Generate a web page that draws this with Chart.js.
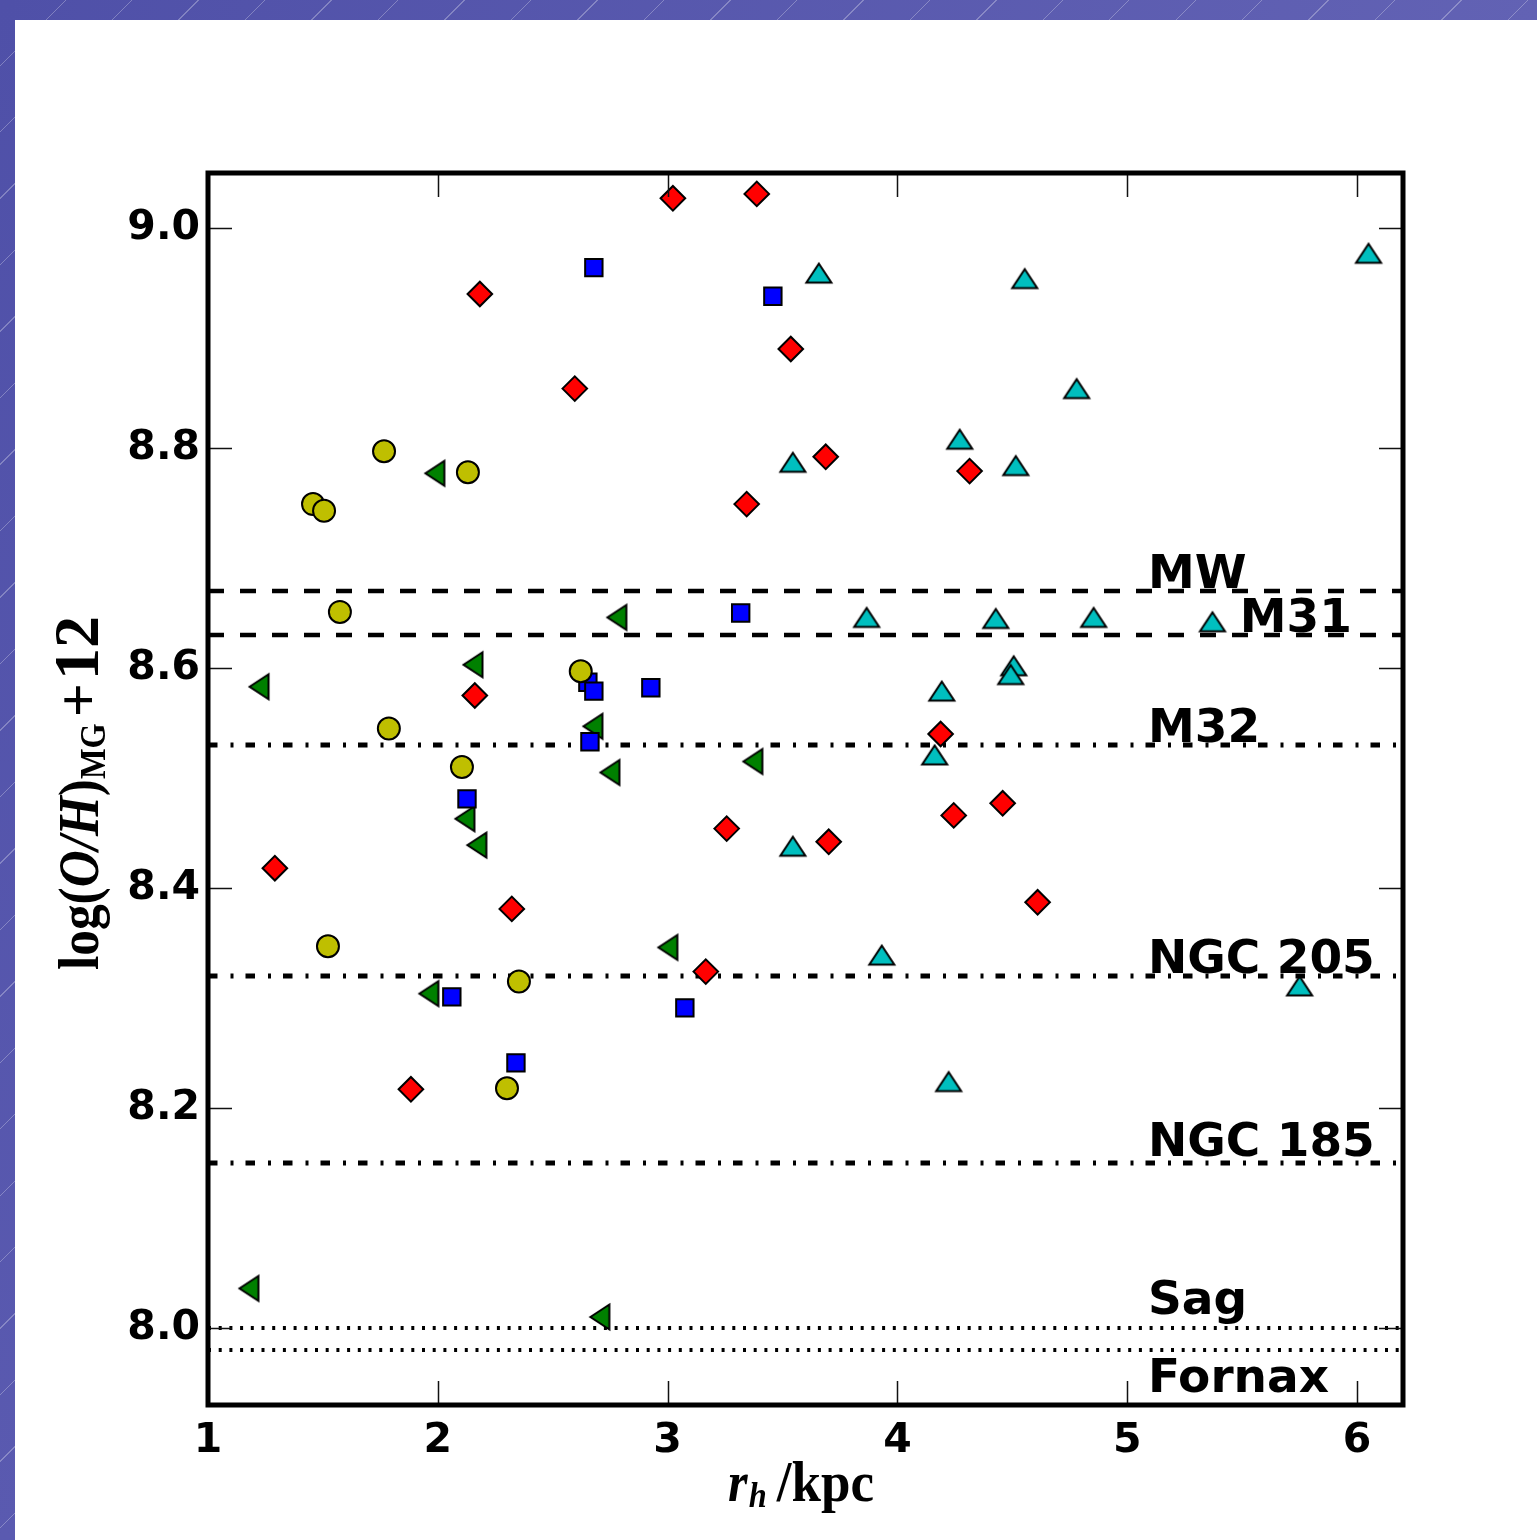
<!DOCTYPE html>
<html>
<head>
<meta charset="utf-8">
<script src="https://cdn.jsdelivr.net/npm/chart.js@4/dist/chart.umd.min.js"></script>
<style>
  html, body { margin: 0; padding: 0; background: #fff; }
  body { width: 1537px; height: 1540px; position: relative; overflow: hidden; }
  .bar-top, .bar-left { position: absolute; left: 0; top: 0; }
  .bar-top {
    width: 1537px; height: 20px;
    background:
      repeating-linear-gradient(135deg, rgba(255,255,255,0) 0 46px, rgba(255,255,255,0.28) 46px 47px),
      linear-gradient(90deg, #4f50a8, #6262b4);
  }
  .bar-left {
    width: 15px; height: 1540px;
    background:
      repeating-linear-gradient(135deg, rgba(255,255,255,0) 0 46px, rgba(255,255,255,0.28) 46px 47px),
      linear-gradient(180deg, #4f50a8, #5a5ab0);
  }
  #chart { position: absolute; left: 0; top: 0; }
</style>
</head>
<body>
<div class="bar-top"></div>
<div class="bar-left"></div>
<canvas id="chart" width="1537" height="1540"></canvas>
<script>
// Axis ticks
const xTicks = [1, 2, 3, 4, 5, 6];
const yTicks = [8.0, 8.2, 8.4, 8.6, 8.8, 9.0];

// Red diamonds
const redX = [3.023, 3.388, 2.183, 3.536, 2.596, 3.688, 4.314, 3.344, 2.161, 4.188, 4.458, 4.245, 3.257, 3.701, 1.291, 4.610, 2.322, 3.166, 1.883];
const redY = [9.027, 9.031, 8.940, 8.890, 8.854, 8.792, 8.779, 8.749, 8.575, 8.540, 8.477, 8.466, 8.454, 8.442, 8.418, 8.387, 8.381, 8.324, 8.217];

// Blue squares
const blueX = [2.679, 3.458, 3.318, 2.653, 2.679, 2.927, 2.662, 2.127, 2.061, 3.075, 2.340];
const blueY = [8.964, 8.938, 8.650, 8.587, 8.579, 8.582, 8.533, 8.481, 8.301, 8.291, 8.241];

// Cyan up-triangles
const cyanX = [3.658, 4.554, 6.050, 4.780, 4.271, 3.545, 4.515, 3.866, 4.428, 4.854, 5.371, 4.506, 4.493, 4.193, 4.162, 3.545, 3.932, 5.750, 4.223];
const cyanY = [8.959, 8.954, 8.977, 8.854, 8.808, 8.787, 8.784, 8.646, 8.645, 8.646, 8.642, 8.602, 8.594, 8.579, 8.521, 8.438, 8.339, 8.311, 8.224];

// Green left-triangles
const greenX = [1.987, 2.779, 2.153, 1.222, 2.675, 2.749, 3.371, 2.118, 2.170, 3.001, 1.961, 1.178, 2.705];
const greenY = [8.777, 8.646, 8.603, 8.583, 8.547, 8.505, 8.515, 8.463, 8.439, 8.346, 8.304, 8.036, 8.010];

// Yellow circles
const yellowX = [1.766, 2.131, 1.457, 1.505, 1.574, 2.622, 1.787, 2.105, 1.522, 2.353, 2.301];
const yellowY = [8.797, 8.778, 8.749, 8.743, 8.651, 8.597, 8.545, 8.510, 8.347, 8.315, 8.218];

// Reference galaxies (horizontal lines)
const refNames = ['MW', 'M31', 'M32', 'NGC 205', 'NGC 185', 'Sag', 'Fornax'];
const refLevels = [8.67, 8.63, 8.53, 8.32, 8.15, 8.00, 7.98];
const refKinds = ['dash', 'dash', 'dashdot', 'dashdot', 'dashdot', 'dot', 'dot'];

// where the galaxy names sit (data coords, baseline)
const nameX = [5.09, 5.49, 5.09, 5.09, 5.09, 5.09, 5.09];
const nameY = [8.673, 8.633, 8.533, 8.323, 8.156, 8.013, 7.942];

const X_MIN = 1, X_MAX = 6.2, Y_MIN = 7.93, Y_MAX = 9.05;

const pts = (xs, ys) => xs.map((x, i) => ({ x, y: ys[i] }));

function triMarker(fill, dir) {
  const c = document.createElement('canvas');
  c.width = 34; c.height = 34;
  const g = c.getContext('2d');
  g.translate(17, 17);
  const a = 12.5, b = 9.5;
  const p = dir === 'up' ? [[0, -b], [-a, b], [a, b]] : [[-b, 0], [b, -a], [b, a]];
  g.beginPath();
  g.moveTo(p[0][0], p[0][1]); g.lineTo(p[1][0], p[1][1]); g.lineTo(p[2][0], p[2][1]);
  g.closePath();
  g.fillStyle = fill; g.fill();
  g.lineWidth = 2; g.lineJoin = 'miter'; g.strokeStyle = '#000'; g.stroke();
  return c;
}

const dashStyles = {
  dash: { dash: [16, 16], width: 4.5 },
  dashdot: { dash: [9.5, 13, 3, 12], width: 5 },
  dot: { dash: [3, 7.7], width: 4 }
};

const refDatasets = refLevels.map((lvl, i) => ({
  label: refNames[i],
  data: [{ x: X_MIN, y: lvl }, { x: X_MAX, y: lvl }],
  showLine: true,
  pointRadius: 0,
  borderColor: '#000',
  borderWidth: dashStyles[refKinds[i]].width,
  borderDash: dashStyles[refKinds[i]].dash,
  borderCapStyle: 'butt',
  order: 10
}));

const markerDatasets = [
  { label: 'yellow', data: pts(yellowX, yellowY), pointStyle: 'circle', pointRadius: 11,
    backgroundColor: '#bfbf00', borderColor: '#000', borderWidth: 2, order: 1 },
  { label: 'blue', data: pts(blueX, blueY), pointStyle: 'rect', pointRadius: 12.3,
    backgroundColor: '#0000ff', borderColor: '#000', borderWidth: 2, order: 2 },
  { label: 'green', data: pts(greenX, greenY), pointStyle: triMarker('#008000', 'left'),
    backgroundColor: '#008000', borderColor: '#000', order: 3 },
  { label: 'cyan', data: pts(cyanX, cyanY), pointStyle: triMarker('#00bfbf', 'up'),
    backgroundColor: '#00bfbf', borderColor: '#000', order: 4 },
  { label: 'red', data: pts(redX, redY), pointStyle: 'rectRot', pointRadius: 12.3,
    backgroundColor: '#ff0000', borderColor: '#000', borderWidth: 2, order: 5 }
];

// rich text helper: parts = [{t, font, dy, gap, sx}], laid out from x=0 (or centred)
function drawRich(ctx, parts, centre) {
  let total = 0;
  parts.forEach(p => {
    ctx.font = p.font;
    p.sx = p.sx || 0.9;
    p.w = ctx.measureText(p.t).width * p.sx;
    total += p.w + (p.gap || 0);
  });
  let x = centre ? -total / 2 : 0;
  parts.forEach(p => {
    x += p.gap || 0;
    ctx.save();
    ctx.translate(x, p.dy || 0);
    ctx.scale(p.sx, 1);
    ctx.font = p.font;
    ctx.fillText(p.t, 0, 0);
    ctx.restore();
    x += p.w;
  });
}

const SERIF = 'Liberation Serif';
const frameAndText = {
  id: 'frameAndText',
  afterDatasetsDraw(chart) {
    const { ctx, chartArea: ca, scales } = chart;
    const xs = scales.x, ys = scales.y;
    ctx.save();
    // inward ticks on all four sides
    ctx.strokeStyle = '#111';
    ctx.lineWidth = 1.5;
    ctx.beginPath();
    xs.ticks.forEach(t => {
      const px = Math.round(xs.getPixelForValue(t.value)) + 0.5;
      ctx.moveTo(px, ca.bottom); ctx.lineTo(px, ca.bottom - 24);
      ctx.moveTo(px, ca.top); ctx.lineTo(px, ca.top + 24);
    });
    ys.ticks.forEach(t => {
      const py = Math.round(ys.getPixelForValue(t.value)) + 0.5;
      ctx.moveTo(ca.left, py); ctx.lineTo(ca.left + 24, py);
      ctx.moveTo(ca.right, py); ctx.lineTo(ca.right - 24, py);
    });
    ctx.stroke();
    // frame
    ctx.lineWidth = 5;
    ctx.strokeStyle = '#000';
    ctx.strokeRect(ca.left, ca.top, ca.right - ca.left, ca.bottom - ca.top);

    // galaxy names
    ctx.fillStyle = '#000';
    ctx.font = 'bold 47px "DejaVu Sans"';
    ctx.textAlign = 'left';
    ctx.textBaseline = 'alphabetic';
    refNames.forEach((n, i) => {
      ctx.fillText(n, xs.getPixelForValue(nameX[i]), ys.getPixelForValue(nameY[i]));
    });

    // x title: r_h /kpc
    ctx.save();
    ctx.translate(801, 1501);
    drawRich(ctx, [
      { t: 'r', font: `italic bold 56px "${SERIF}"` },
      { t: 'h', font: `italic bold 36px "${SERIF}"`, dy: 6, gap: 1 },
      { t: '/kpc', font: `bold 57px "${SERIF}"`, gap: 10, sx: 0.93 }
    ], true);
    ctx.restore();

    // y title: log(O/H)_MG +12, reading upwards from y = 970
    ctx.save();
    ctx.translate(98, 970);
    ctx.rotate(-Math.PI / 2);
    drawRich(ctx, [
      { t: 'log(', font: `bold 57px "${SERIF}"` },
      { t: 'O/H', font: `italic bold 57px "${SERIF}"` },
      { t: ')', font: `bold 57px "${SERIF}"` },
      { t: 'MG', font: `bold 36px "${SERIF}"`, dy: 7 },
      { t: '+', font: `bold 60px "${SERIF}"`, gap: 6, sx: 1 },
      { t: '12', font: `bold 64px "${SERIF}"`, gap: 3, sx: 1 }
    ], false);
    ctx.restore();
    ctx.restore();
  }
};

const tickFont = { family: 'DejaVu Sans', weight: 'bold', size: 41 };

new Chart(document.getElementById('chart'), {
  type: 'scatter',
  data: { datasets: [...markerDatasets, ...refDatasets] },
  options: {
    responsive: false,
    animation: false,
    layout: { padding: { top: 173, right: 134, bottom: 0, left: 0 } },
    plugins: { legend: { display: false }, tooltip: { enabled: false } },
    scales: {
      x: {
        type: 'linear', min: X_MIN, max: X_MAX,
        afterBuildTicks: s => { s.ticks = xTicks.map(v => ({ value: v })); },
        afterFit: s => { s.height = 135; },
        grid: { display: false, drawTicks: false },
        border: { display: false },
        ticks: { font: tickFont, color: '#000', padding: 12, maxRotation: 0, callback: v => String(v) }
      },
      y: {
        type: 'linear', min: Y_MIN, max: Y_MAX,
        afterBuildTicks: s => { s.ticks = yTicks.map(v => ({ value: v })); },
        afterFit: s => { s.width = 208; },
        grid: { display: false, drawTicks: false },
        border: { display: false },
        ticks: { font: tickFont, color: '#000', padding: 8, callback: v => Number(v).toFixed(1) }
      }
    }
  },
  plugins: [frameAndText]
});
</script>
</body>
</html>
